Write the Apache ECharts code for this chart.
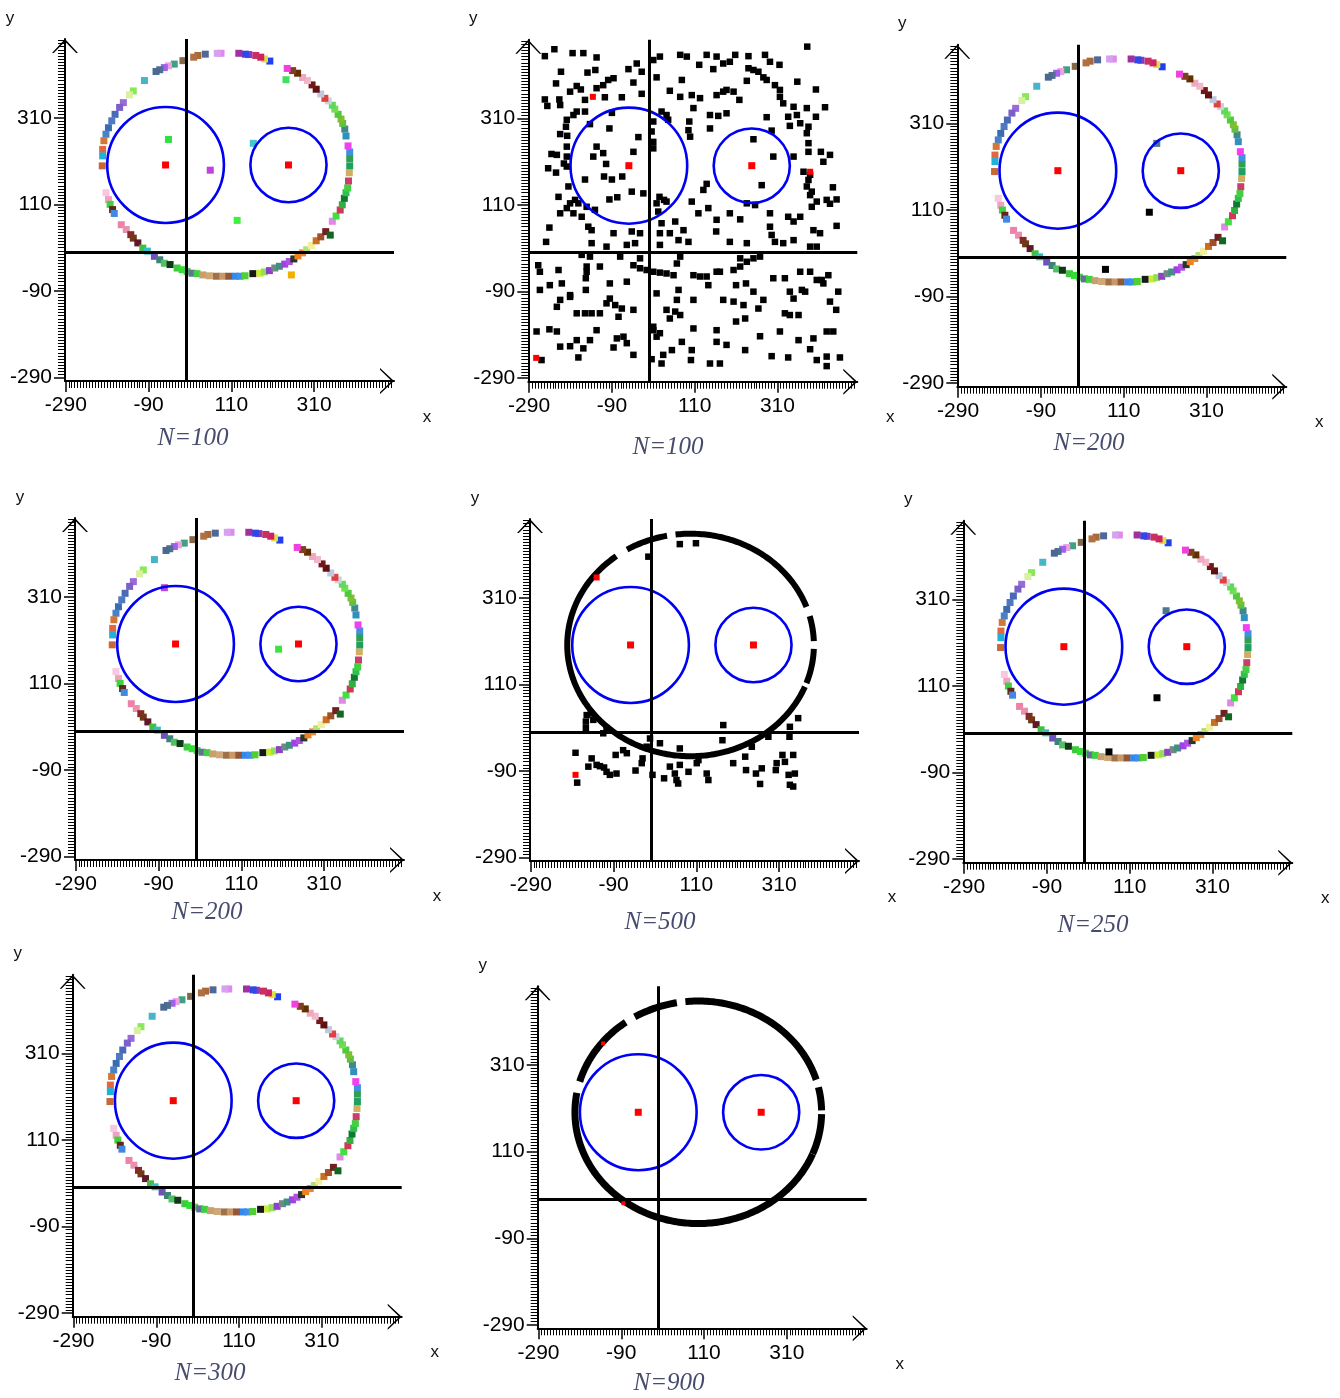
<!DOCTYPE html>
<html><head><meta charset="utf-8">
<script src="https://cdn.jsdelivr.net/npm/echarts@6/dist/echarts.min.js"></script>
<style>html,body{margin:0;padding:0;background:#fff}#c{width:1340px;height:1398px}</style>
</head><body><div id="c"></div>
<script>
// ---------- axis values ----------
const XMIN = -292, XMAX = 503, YMIN = -298, YMAX = 492;
const xTickLabels = [-290, -90, 110, 310];
const yTickLabels = [-290, -90, 110, 310];
const captions = ['N=100', 'N=100', 'N=200', 'N=200', 'N=500', 'N=250', 'N=300', 'N=900'];

// ---------- shapes (centre x, centre y, radius x, radius y) ----------
const blueCircles = [[-49, 201, 141, 134], [248, 201, 92, 86]];
const centres = [[-49, 201], [248, 201]];
const ringEllipse = [96, 201, 298, 257];

// ---------- colored ring (shared by N=100,200,200,250,300) ----------
const ringPts = [
[-100,396],[-127,372],[-136,363],[-151,345],[-160,334],[-171,318],[-179,303],[-187,287],[-193,272],[-198,257],[-201,237],[-201,222],[-202,199],
[-193,137],[-187,121],[-183,110],[-177,98],[-173,89],[-156,63],[-144,52],[-133,40],[-127,32],[-116,21],[-104,9],[-93,2],[-76,-10],[-63,-18],[-52,-26],[-38,-29],[-21,-37],[-9,-41],[3,-45],[15,-49],[27,-50],[41,-53],[57,-55],[74,-56],[89,-56],[104,-56],[120,-56],[131,-56],[143,-55],[162,-50],[179,-49],[190,-46],[202,-43],[215,-37],[226,-33],[239,-28],[250,-22],[261,-16],[271,-9],[282,-2],[292,5],[303,15],[315,26],[326,35],[338,47],[349,39],
[354,71],[363,83],[373,97],[378,109],[383,124],[387,137],[391,148],[393,164],[395,183],[396,199],[396,216],[396,231],[392,245],[387,268],[384,284],[379,297],[375,307],[368,318],[360,330],[354,339],[344,349],[336,355],[326,365],[315,376],[305,386],[294,396],[282,403],[270,413],[258,419],[245,424],
[203,441],[190,446],[181,450],[169,454],[152,456],[144,457],[128,459],[85,459],[76,459],[47,457],[29,454],[19,450],[-7,442],[-28,434],[-42,430],[-52,426],[-63,421],[-72,417]
];
const ringColors = [
'#48b4c8','#88e858','#d8f0a0','#9a6ad8','#7a60c8','#4a6ab8','#5078c0','#3c6cb0','#4a80c8','#d07838','#e06840','#20b0d8','#c86838',
'#f8c8e0','#f0a0c0','#40d040','#602818','#4088e0','#f080a8','#e890b0','#882828','#703818','#601828','#40c040','#30c0c0','#7050c0','#408078','#50c060','#103818','#40c840','#30e030','#50d050','#607098','#40d040','#c8a070','#d0a878','#a07048','#c89868','#905838','#3088f0','#4090e8','#50d030','#181818','#c8f028','#90e060','#9040c8','#708888','#409080','#a040e8','#b050e0','#283828','#f08020','#e88830','#b0e070','#f0f0a0','#c87020','#a05028','#702020','#106820',
'#e088e8','#40e040','#d03858','#30b040','#107830','#30c050','#40d040','#c84068','#d0b060','#20a060','#30a050','#4090e0','#f040f0','#3090c0','#408890','#60c040','#80c030','#50c840','#70e050','#60d860','#d0d0d8','#e04040','#c0c8e0','#601010','#701818','#f0b8c8','#f0a8c0','#603000','#804020','#f040e0',
'#2040f0','#e0e040','#d02068','#c83060','#8838c0','#3048e8','#a030a0','#e088f0','#d8a0f0','#506898','#a86838','#b07040','#806848','#40a080','#f0a0e0','#a060f0','#507090','#4a6890'
];

// ---------- extra points per colored panel ----------
const p1Extra = [[-42,260],[59,189],[124,73],[163,251],[255,-53],[242,398]];
const p1ExtraColors = ['#30e040','#c040e0','#40f040','#40c8d0','#f0b000','#40e060'];
const p3Extra = [[172,105],[66,-27],[190,264]];
const p3ExtraColors = ['#000000','#000000','#4a7890'];
const p4Extra = [[-76,331],[200,189]];
const p4ExtraColors = ['#c040e0','#40e040'];
const p6Extra = [[176,83],[60,-42],[198,284]];
const p6ExtraColors = ['#000000','#000000','#4a7890'];
const p7Extra = [];
const p7ExtraColors = [];

// ---------- panel 2 (N=100, black) ----------
const p2Black = [
[-252,454],[-229,470],[-185,461],[-159,461],[-127,451],[26,453],[75,457],[91,453],[139,457],[163,453],[208,457],[240,454],[280,457],[292,441],[315,434],[382,476],
[-213,418],[-149,416],[-130,422],[-50,424],[-18,418],[-30,437],[10,445],[121,434],[155,424],[179,437],[195,441],[240,426],[252,422],[264,418],
[-225,391],[-191,372],[-175,385],[-165,377],[-127,380],[-111,387],[-99,399],[-86,403],[-38,393],[18,405],[50,374],[79,399],[103,364],[123,357],[179,372],[187,376],[204,372],[236,397],[276,405],[284,399],[304,387],[316,376],[358,395],[403,377],
[-252,354],[-217,354],[-246,339],[-215,341],[-155,353],[-107,359],[-66,359],[-18,367],[75,360],[107,334],[163,364],[218,353],[316,360],[324,345],[349,337],[381,334],[425,336],
[-199,307],[-183,318],[-175,326],[-155,326],[-90,323],[30,326],[42,318],[10,303],[46,307],[97,303],[147,318],[167,316],[187,322],[284,313],[336,314],[357,318],[403,314],[365,299],[340,293],
[-201,291],[-215,274],[-198,270],[-143,297],[-96,287],[-26,267],[6,280],[10,256],[95,283],[99,268],[147,287],[252,262],[296,282],[381,276],[385,253],[385,291],
[-236,228],[-223,226],[-199,245],[-199,222],[-127,245],[-111,230],[-135,222],[-38,233],[10,241],[300,222],[349,222],[385,233],[415,233],[437,226],
[-244,195],[-225,185],[-206,206],[-199,199],[-104,205],[-155,169],[-109,176],[-90,169],[-65,176],[373,187],[389,180],[421,210],[385,168],
[-195,153],[-219,129],[-179,122],[-191,114],[-42,141],[-14,137],[-96,123],[-77,128],[25,129],[36,122],[131,145],[139,159],[272,156],[236,114],[256,110],[381,153],[393,141],[389,133],[429,122],[444,151],[453,123],[437,113],
[-215,91],[-199,103],[-171,114],[-183,91],[-163,83],[-151,106],[-131,99],[-147,60],[-139,52],[-241,58],[18,114],[22,95],[42,118],[30,68],[63,72],[103,118],[119,91],[143,103],[163,76],[195,91],[220,77],[292,91],[336,83],[365,83],[349,72],[393,106],[405,118],[453,62],[292,60],[296,41],[-86,45],[-42,49],[-22,45],[26,45],[50,45],[83,52],[397,52],[413,45],[162,49],
[-249,25],[-139,22],[-103,14],[-54,18],[-34,22],[26,18],[71,29],[95,25],[195,25],[236,22],[304,25],[324,22],[349,29],[389,14],[405,14],[-163,-5],[-143,-9],[-70,-9],[-22,-13],
[-38,-29],[-22,-36],[-6,-40],[10,-44],[26,-46],[42,-48],[59,-52],[75,-9],[67,-25],[107,-52],[123,-55],[139,-55],[171,-44],[204,-40],[220,-32],[236,-21],[252,-13],[268,-9],[220,-13],
[-268,-29],[-264,-44],[-219,-40],[-151,-32],[-151,-44],[-153,-59],[-119,-32],[-95,-71],[-54,-67],[-264,-86],[-240,-75],[-211,-71],[-191,-98],[-153,-86],[18,-94],[71,-86],[67,-109],[143,-75],[163,-44],[210,-75],[234,-71],[252,-90],[300,-59],[328,-59],[365,-44],[389,-44],[405,-63],[417,-63],[433,-52],[457,-90],[340,-90],[369,-86],[421,-71],
[-223,-125],[-215,-109],[-191,-102],[-175,-140],[-155,-140],[-139,-140],[-119,-140],[-103,-117],[-95,-106],[-82,-121],[-66,-129],[-74,-148],[-38,-132],[42,-132],[50,-152],[75,-144],[63,-136],[107,-109],[179,-109],[204,-113],[228,-121],[232,-152],[210,-159],[264,-129],[276,-109],[328,-140],[340,-144],[349,-106],[361,-144],[377,-90],[437,-113],[452,-132],
[-272,-182],[-241,-177],[-223,-182],[-175,-202],[-143,-202],[-127,-179],[-215,-217],[-191,-216],[-159,-221],[-171,-242],[-78,-198],[-62,-194],[-54,-209],[-38,-236],[-86,-219],[10,-179],[26,-186],[10,-171],[18,-194],[79,-206],[107,-175],[163,-179],[163,-206],[187,-213],[268,-193],[316,-182],[361,-202],[397,-198],[429,-182],[445,-182],[232,-225],[103,-225],[101,-248],[34,-236],[30,-256],[55,-225],[147,-256],[171,-256],[296,-239],[336,-242],[389,-223],[405,-248],[429,-240],[461,-242],[429,-262],[6,-246],[-260,-248]
];
const p2Red = [[-136,360],[-273,-243],[389,187]];

// ---------- panel 5 (N=500) ----------
const p5Arcs = [[-20,-2],[2,15],[20,97],[101,121],[127,338]];
const p5Black = [[-182,-48],[-178,-117],[-151,-80],[-143,-61],[-131,-76],[-123,-79],[-113,-82],[-107,-92],[-99,-99],[-83,-96],[-85,-53],[-67,-42],[-58,-49],[-37,-89],[-22,-72],[-20,-61],[-10,-34],[4,-99],[22,-26],[32,-107],[46,-80],[58,-96],[62,-111],[66,-119],[70,-76],[70,-38],[91,-92],[111,-72],[115,-65],[135,-96],[139,-111],[175,16],[173,-19],[199,-72],[228,-57],[230,-88],[254,-96],[268,-84],[264,-120],[302,-88],[304,-72],[318,-53],[344,-53],[324,-69],[333,-99],[348,-96],[336,-122],[344,-126],[356,32],[336,12],[335,-11],[284,-11],[244,-34],[-2,-15],[-115,-3],[-107,9],[70,434],[109,436],[-6,405],[-155,39],[-157,24],[-157,9],[-145,43],[-139,28]];
const p5Red = [[-182,-99],[-131,357]];

// ---------- panel 8 (N=900) ----------
const p8Arcs = [[-22,-1],[1,13],[17,96],[100,121],[126,164],[170,338]];
const p8Red = [[-134,360],[-85,-9]];

// ---------- layout ----------
const W = 329, H = 342;
const layout = [
  {left: 65,    top: 39,    cap: [193, 438]},
  {left: 528.3, top: 39.7,  cap: [668, 447]},
  {left: 957.3, top: 44.7,  cap: [1089, 443]},
  {left: 75,    top: 518,   cap: [207, 912]},
  {left: 530,   top: 519,   cap: [660, 922]},
  {left: 963.3, top: 520.7, cap: [1093, 925]},
  {left: 72.7,  top: 974.7, cap: [210, 1373]},
  {left: 537.7, top: 986.3, cap: [669, 1383]}
];
const kinds = ['ring', 'random', 'ring', 'ring', 'n500', 'ring', 'ring', 'n900'];
const extrasByPanel = {0: [p1Extra, p1ExtraColors], 2: [p3Extra, p3ExtraColors], 3: [p4Extra, p4ExtraColors], 5: [p6Extra, p6ExtraColors], 6: [p7Extra, p7ExtraColors]};

// dense ruler-style minor ticks (28 per labelled interval)
const MINOR_STEP = 200 / 28;
const xMinor = [], yMinor = [];
for (let k = 1; -290 + k * MINOR_STEP < XMAX - 3; k++) if (k % 28 !== 0) xMinor.push(-290 + k * MINOR_STEP);
for (let k = 1; -290 + k * MINOR_STEP < YMAX - 3; k++) if (k % 28 !== 0) yMinor.push(-290 + k * MINOR_STEP);

const ARROW = 'path://M0,14L13,0L26,14L24.2,14L13,2.4L1.8,14Z';
const labelFont = {fontSize: 21, fontFamily: 'Liberation Sans', color: '#000'};

function mainAxis(dim, gi) {
  const isX = dim === 'x';
  return {
    gridIndex: gi, type: 'value', position: isX ? 'bottom' : 'left',
    min: isX ? XMIN : YMIN, max: isX ? XMAX : YMAX,
    axisLine: {show: true, onZero: false, lineStyle: {color: '#000', width: 2},
      symbol: ['none', ARROW], symbolSize: [26, 14], symbolOffset: [0, -7]},
    axisTick: {show: true, customValues: isX ? xTickLabels : yTickLabels, length: 11, lineStyle: {color: '#000', width: 1.5}},
    axisLabel: Object.assign({show: true, customValues: isX ? xTickLabels : yTickLabels, margin: isX ? 14 : 13}, labelFont),
    splitLine: {show: false}, axisPointer: {show: false}, silent: true
  };
}
function minorAxis(dim, gi) {
  const isX = dim === 'x';
  return {
    gridIndex: gi, type: 'value', position: isX ? 'bottom' : 'left',
    min: isX ? XMIN : YMIN, max: isX ? XMAX : YMAX,
    axisLine: {show: false, onZero: false},
    axisTick: {show: true, customValues: isX ? xMinor : yMinor, length: 7, lineStyle: {color: '#000', width: 1}},
    axisLabel: {show: false}, splitLine: {show: false}, axisPointer: {show: false}, silent: true
  };
}

function scatter(gi, data, color, size, z) {
  return {type: 'scatter', xAxisIndex: 2 * gi, yAxisIndex: 2 * gi, symbol: 'rect', symbolSize: size,
    data: data, itemStyle: {color: color, opacity: 1}, silent: true, z: z, emphasis: {disabled: true}, animation: false};
}
function coloredScatter(gi, pts, cols, size, z) {
  return scatter(gi, pts.map((p, k) => ({value: p, itemStyle: {color: cols[k]}})), '#000', size, z);
}
function circleSeries(gi) {
  return {
    type: 'custom', coordinateSystem: 'cartesian2d', xAxisIndex: 2 * gi, yAxisIndex: 2 * gi,
    data: blueCircles, silent: true, z: 3, animation: false,
    renderItem: function (params, api) {
      const c = api.coord([api.value(0), api.value(1)]);
      const s = api.size([api.value(2), api.value(3)]);
      return {type: 'ellipse', shape: {cx: c[0], cy: c[1], rx: s[0], ry: s[1]},
        style: {fill: 'none', stroke: '#0000f4', lineWidth: 2.6}};
    }
  };
}
function arcSeries(gi, arcs, width) {
  return {
    type: 'custom', coordinateSystem: 'cartesian2d', xAxisIndex: 2 * gi, yAxisIndex: 2 * gi,
    data: arcs.map(a => [ringEllipse[0], ringEllipse[1], ringEllipse[2], ringEllipse[3], a[0], a[1]]),
    silent: true, z: 2, animation: false,
    renderItem: function (params, api) {
      const cx = api.value(0), cy = api.value(1), rx = api.value(2), ry = api.value(3);
      const a0 = api.value(4), a1 = api.value(5);
      const pts = [];
      for (let t = a0; t <= a1 + 1e-6; t += 1) {
        const r = t * Math.PI / 180;
        pts.push(api.coord([cx + rx * Math.cos(r), cy + ry * Math.sin(r)]));
      }
      return {type: 'polyline', shape: {points: pts}, style: {fill: 'none', stroke: '#000', lineWidth: width}};
    }
  };
}

const grids = [], xAxes = [], yAxes = [], series = [], graphics = [];
layout.forEach((L, i) => {
  grids.push({left: L.left, top: L.top, width: W, height: H});
  xAxes.push(mainAxis('x', i), minorAxis('x', i));
  yAxes.push(mainAxis('y', i), minorAxis('y', i));

  const k = kinds[i];
  if (k === 'ring') {
    series.push(coloredScatter(i, ringPts, ringColors, 7, 2));
    const ex = extrasByPanel[i];
    if (ex && ex[0].length) series.push(coloredScatter(i, ex[0], ex[1], 7, 2));
  } else if (k === 'random') {
    series.push(scatter(i, p2Black, '#000', 6.5, 2));
    series.push(scatter(i, p2Red, '#ff0000', 6, 4));
  } else if (k === 'n500') {
    series.push(arcSeries(i, p5Arcs, 6));
    series.push(scatter(i, p5Black, '#000', 6.5, 2));
    series.push(scatter(i, p5Red, '#ff0000', 6, 4));
  } else if (k === 'n900') {
    series.push(arcSeries(i, p8Arcs, 7));
    series.push(scatter(i, p8Red, '#ff0000', 4, 4));
  }
  series.push(circleSeries(i));
  const cs = scatter(i, centres, '#ff0000', 7, 5);
  cs.markLine = {silent: true, symbol: ['none', 'none'], animation: false, label: {show: false},
    emphasis: {disabled: true}, lineStyle: {color: '#000', width: 3, type: 'solid', opacity: 1},
    data: [{xAxis: 0}, {yAxis: 0}]};
  series.push(cs);

  graphics.push({type: 'text', x: L.left - 55, y: L.top - 21, silent: true,
    style: {text: 'y', font: '17px "Liberation Sans"', fill: '#111', align: 'center', verticalAlign: 'middle'}});
  graphics.push({type: 'text', x: L.left + W + 33, y: L.top + H + 36, silent: true,
    style: {text: 'x', font: '17px "Liberation Sans"', fill: '#111', align: 'center', verticalAlign: 'middle'}});
  graphics.push({type: 'text', x: L.cap[0], y: L.cap[1], silent: true,
    style: {text: captions[i], font: 'italic 25px "Liberation Serif"', fill: '#474c6e', align: 'center', verticalAlign: 'middle'}});
});

const chart = echarts.init(document.getElementById('c'), null, {renderer: 'canvas'});
chart.setOption({
  backgroundColor: '#ffffff',
  animation: false,
  grid: grids, xAxis: xAxes, yAxis: yAxes, series: series,
  graphic: {elements: graphics}
});
</script></body></html>
